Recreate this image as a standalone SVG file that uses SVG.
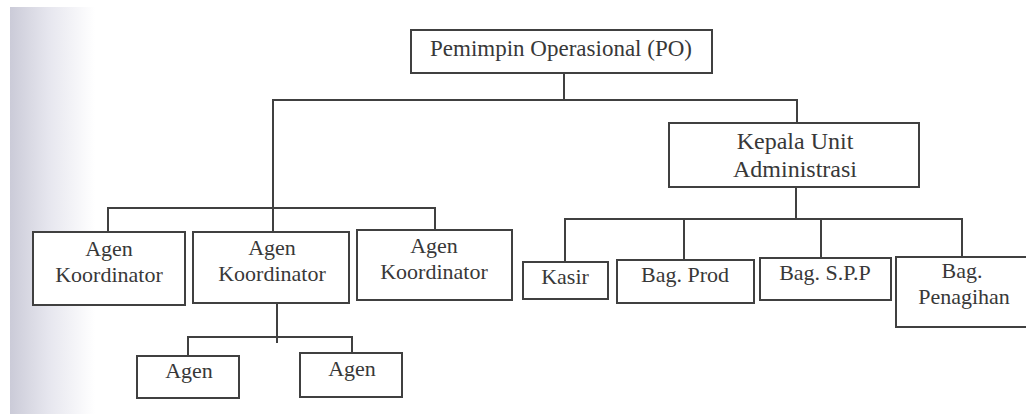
<svg xmlns="http://www.w3.org/2000/svg" width="1026" height="415" viewBox="0 0 1026 415">
  <defs>
    <linearGradient id="shade" x1="0" y1="0" x2="1" y2="0">
      <stop offset="0" stop-color="#cbcbd8"/>
      <stop offset="0.45" stop-color="#e6e6ee"/>
      <stop offset="1" stop-color="#ffffff"/>
    </linearGradient>
    <style>
      .box { fill: #ffffff; stroke: #404040; stroke-width: 2; }
      .ln { fill: none; stroke: #404040; stroke-width: 2; stroke-linecap: square; }
      .t { font-family: 'Liberation Serif', 'DejaVu Serif', 'Times New Roman', serif; font-size: 22px; fill: #383838; text-anchor: middle; }
      .big { font-size: 24px; }
    </style>
  </defs>

  <rect x="0" y="0" width="1026" height="415" fill="#ffffff"/>
  <rect x="10" y="7" width="85" height="407" fill="url(#shade)"/>

  <g id="connectors">
    <line class="ln" x1="564" y1="73" x2="564" y2="100"/>
    <line class="ln" x1="273" y1="100" x2="797" y2="100"/>
    <line class="ln" x1="797" y1="100" x2="797" y2="123"/>
    <line class="ln" x1="273" y1="100" x2="273" y2="232"/>
    <line class="ln" x1="108" y1="208" x2="435" y2="208"/>
    <line class="ln" x1="108" y1="208" x2="108" y2="232"/>
    <line class="ln" x1="435" y1="208" x2="435" y2="230"/>
    <line class="ln" x1="277" y1="303" x2="277" y2="342"/>
    <line class="ln" x1="188" y1="337" x2="352" y2="337"/>
    <line class="ln" x1="188" y1="337" x2="188" y2="356"/>
    <line class="ln" x1="352" y1="337" x2="352" y2="353"/>
    <line class="ln" x1="796" y1="187" x2="796" y2="219"/>
    <line class="ln" x1="565" y1="219" x2="962" y2="219"/>
    <line class="ln" x1="565" y1="219" x2="565" y2="262"/>
    <line class="ln" x1="684" y1="219" x2="684" y2="260"/>
    <line class="ln" x1="821" y1="219" x2="821" y2="258"/>
    <line class="ln" x1="962" y1="219" x2="962" y2="257"/>
  </g>

  <g font-family="Liberation Serif, DejaVu Serif, serif">
  <g id="po">
    <rect class="box" x="411" y="30" width="301" height="43"/>
    <text class="t" x="561" y="56" style="font-size:23px">Pemimpin Operasional (PO)</text>
  </g>

  <g id="kepala-unit">
    <rect class="box" x="669" y="123" width="250" height="64"/>
    <text class="t big" x="795" y="149">Kepala Unit</text>
    <text class="t big" x="795" y="177">Administrasi</text>
  </g>

  <g id="agen-koordinator-1">
    <rect class="box" x="33" y="232" width="152" height="73"/>
    <text class="t" x="109" y="256">Agen</text>
    <text class="t" x="109" y="282">Koordinator</text>
  </g>

  <g id="agen-koordinator-2">
    <rect class="box" x="193" y="232" width="156" height="71"/>
    <text class="t" x="272" y="255">Agen</text>
    <text class="t" x="272" y="281">Koordinator</text>
  </g>

  <g id="agen-koordinator-3">
    <rect class="box" x="357" y="230" width="155" height="70"/>
    <text class="t" x="434" y="253">Agen</text>
    <text class="t" x="434" y="279">Koordinator</text>
  </g>

  <g id="agen-1">
    <rect class="box" x="137" y="356" width="102" height="42"/>
    <text class="t" x="189" y="378">Agen</text>
  </g>

  <g id="agen-2">
    <rect class="box" x="300" y="353" width="102" height="44"/>
    <text class="t" x="352" y="376">Agen</text>
  </g>

  <g id="kasir">
    <rect class="box" x="523" y="262" width="85" height="37"/>
    <text class="t" x="565" y="284">Kasir</text>
  </g>

  <g id="bag-prod">
    <rect class="box" x="617" y="260" width="137" height="43"/>
    <text class="t" x="685" y="282">Bag. Prod</text>
  </g>

  <g id="bag-spp">
    <rect class="box" x="760" y="258" width="131" height="42"/>
    <text class="t" x="825" y="280">Bag. S.P.P</text>
  </g>

  <g id="bag-penagihan">
    <rect class="box" x="896" y="257" width="140" height="70"/>
    <text class="t" x="962" y="278">Bag.</text>
    <text class="t" x="964" y="304">Penagihan</text>
  </g>
  </g>
</svg>
